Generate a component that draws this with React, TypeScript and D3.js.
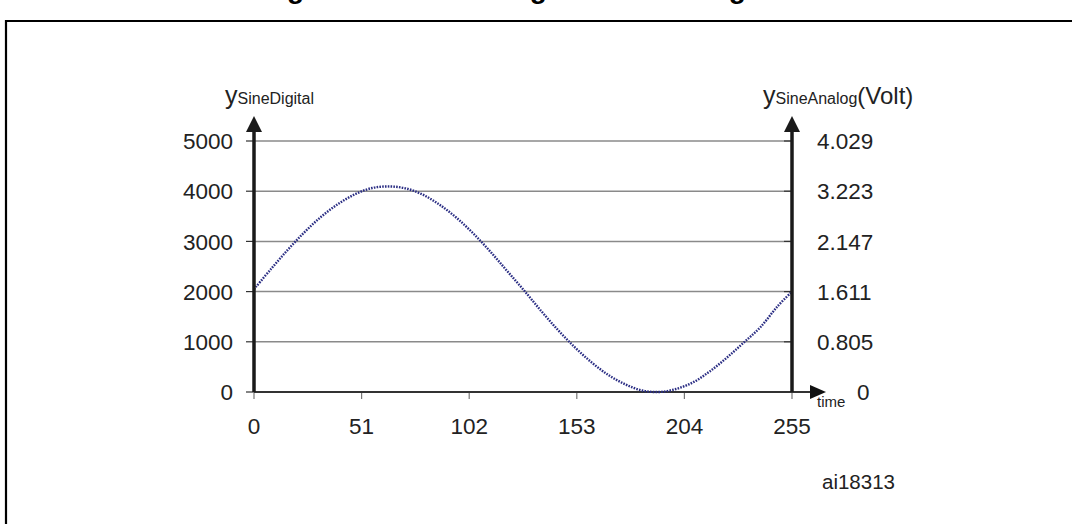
import React from "react";
import * as d3 from "d3";

const timeTicks = [0, 51, 102, 153, 204, 255];
const digitalTicks = [0, 1000, 2000, 3000, 4000, 5000];
const analogLabels = ["0", "0.805", "1.611", "2.147", "3.223", "4.029"];
const sampleTime = [0, 8, 16, 24, 32, 40, 48, 56, 64, 72, 80, 88, 96, 104, 112, 120, 128, 136, 144, 152, 160, 168, 176, 184, 192, 200, 208, 216, 224, 232, 240, 248, 255];
const sampleValue = [2048, 2447, 2832, 3186, 3497, 3749, 3942, 4064, 4095, 4055, 3931, 3730, 3470, 3155, 2797, 2410, 2023, 1620, 1238, 893, 590, 338, 152, 30, 0, 60, 190, 410, 680, 980, 1290, 1700, 2000];

const W = 1072, H = 524;
const FONT = "'Liberation Sans', Arial, sans-serif";

export default function App() {
  const x = d3.scaleLinear().domain([0, 255]).range([254, 792]);
  const y = d3.scaleLinear().domain([0, 5000]).range([392, 141]);
  const line = d3.line<number>()
    .x((_, i) => x(sampleTime[i]))
    .y((d) => y(d))
    .curve(d3.curveCatmullRom);
  const path = line(sampleValue) || "";
  const axisTop = 132;
  return (
    <svg width={W} height={H} style={{ position: "fixed", left: 0, top: 0, background: "#fff" }} fontFamily={FONT}>
      <rect x={0} y={0} width={W} height={H} fill="#fff" />
      <text x={262} y={-2} textAnchor="start" fontSize={28} fontWeight="bold" fill="#000">Figure 7. Sine wave generated using DMA</text>
      <path d={`M6,${H + 5} V21 H${W + 5}`} fill="none" stroke="#000" strokeWidth={2.2} />
      {digitalTicks.slice(1).map((t) => (
        <line key={"g" + t} x1={x(0)} x2={x(255)} y1={y(t)} y2={y(t)} stroke="#8a8a8a" strokeWidth={1.5} />
      ))}
      {digitalTicks.map((t) => (
        <line key={"tl" + t} x1={x(0) - 8} x2={x(0)} y1={y(t)} y2={y(t)} stroke="#333" strokeWidth={1.2} />
      ))}
      {digitalTicks.map((t) => (
        <line key={"tr" + t} x1={x(255) - 8} x2={x(255)} y1={y(t)} y2={y(t)} stroke="#333" strokeWidth={1.2} />
      ))}
      {timeTicks.map((t) => (
        <line key={"tx" + t} x1={x(t)} x2={x(t)} y1={y(0)} y2={y(0) + 7} stroke="#777" strokeWidth={1.2} />
      ))}
      <line x1={x(0)} x2={812} y1={y(0)} y2={y(0)} stroke="#333" strokeWidth={1.8} />
      <path d={`M810,${y(0) - 7} L826,${y(0)} L810,${y(0) + 7} Z`} fill="#111" />
      <path d={path} fill="none" stroke="#2b2e84" strokeWidth={2.4} strokeDasharray="1.6 1.2" />
      {[x(0), x(255)].map((ax, i) => (
        <g key={"ax" + i}>
          <line x1={ax} x2={ax} y1={y(0)} y2={axisTop} stroke="#1a1a1a" strokeWidth={3.5} />
          <path d={`M${ax - 8},${axisTop} L${ax},${axisTop - 16} L${ax + 8},${axisTop} Z`} fill="#1a1a1a" />
        </g>
      ))}
      {digitalTicks.map((t) => (
        <text key={"ld" + t} x={233} y={y(t)} dy="0.36em" textAnchor="end" fontSize={22.5} fill="#222">{t}</text>
      ))}
      {analogLabels.map((l, i) => (
        <text key={"la" + i} x={i === 0 ? 857 : 817} y={y(digitalTicks[i])} dy="0.36em" textAnchor="start" fontSize={22.5} fill="#222">{l}</text>
      ))}
      {timeTicks.map((t) => (
        <text key={"lt" + t} x={x(t)} y={434} textAnchor="middle" fontSize={22.5} fill="#222">{t}</text>
      ))}
      <text x={817} y={407} fontSize={15} fill="#222">time</text>
      <text x={225} y={104} fontSize={25} fill="#222">y<tspan fontSize={16} dx={0}>SineDigital</tspan></text>
      <text x={763} y={104} fontSize={25} fill="#222">y<tspan fontSize={16} dx={0}>SineAnalog</tspan><tspan fontSize={24}>(Volt)</tspan></text>
      <text x={822} y={489} fontSize={20.5} fill="#222">ai18313</text>
    </svg>
  );
}
